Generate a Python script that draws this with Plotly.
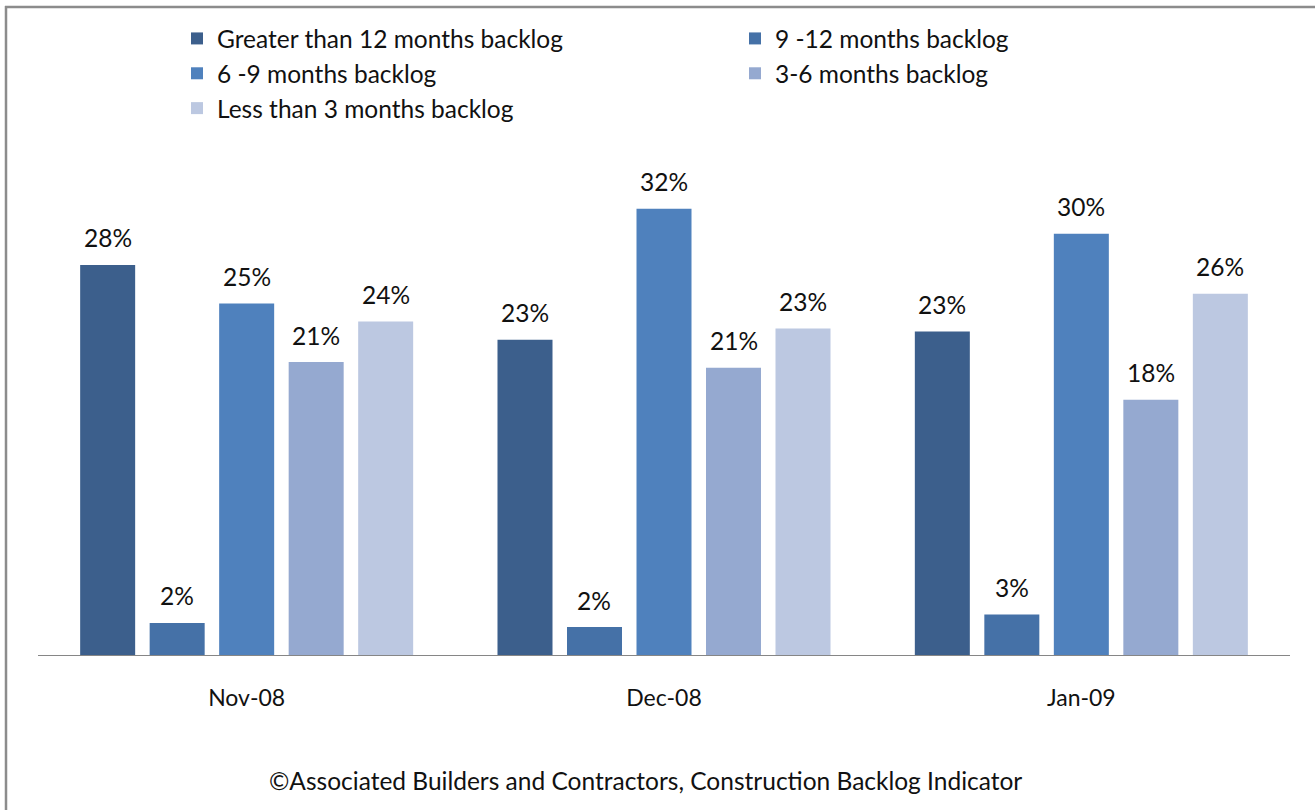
import plotly.graph_objects as go

# ---------------- data ----------------
categories = ["Nov-08", "Dec-08", "Jan-09"]
series_names = [
    "Greater than 12 months backlog",
    "9 -12 months backlog",
    "6 -9 months backlog",
    "3-6 months backlog",
    "Less than 3 months backlog",
]
gt12 = [27.96, 22.6, 23.2]
m9_12 = [2.3, 2.0, 2.9]
m6_9 = [25.2, 32.0, 30.2]
m3_6 = [21.0, 20.6, 18.3]
lt3 = [23.9, 23.4, 25.9]
series_values = [gt12, m9_12, m6_9, m3_6, lt3]
colors = ["#3C5F8C", "#4571A7", "#4F81BD", "#95A9D0", "#BCC8E1"]
footer = "\u00a9Associated Builders and Contractors, Construction Backlog Indicator"

# ---------------- layout geometry ----------------
W, H = 1315, 810
ML, MR, MT, MB = 38, 25, 170, 155
PW = W - ML - MR
PH = H - MT - MB
YMAX = 34.77
BARGAP = 0.1673
BARGROUPGAP = 0.2086
FONT = "Lato, 'Open Sans', sans-serif"

def px_x(px):
    return (px - ML) / PW

def px_y(py):
    return (H - MB - py) / PH

fig = go.Figure()
for name, vals, col in zip(series_names, series_values, colors):
    fig.add_trace(go.Bar(
        name=name, x=categories, y=vals, marker=dict(color=col, line=dict(width=0)),
        hoverinfo="skip",
    ))

# data labels as annotations above each bar
cat_w = PW / len(categories)
slot = (1 - BARGAP) * cat_w / len(series_names)
n = len(series_names)
annotations = []
for i, vals in enumerate(series_values):
    for c, v in zip(categories, vals):
        annotations.append(dict(
            x=c, y=v, xref="x", yref="y", text=f"{round(v)}%", showarrow=False,
            xshift=(i - (n - 1) / 2) * slot, yshift=27, yanchor="middle",
            font=dict(family=FONT, size=24.5, color="#111111"),
        ))
annotations.append(dict(
    x=px_x(645), y=px_y(780), xref="paper", yref="paper", text=footer, showarrow=False,
    xanchor="center", yanchor="middle", font=dict(family=FONT, size=24.5, color="#111111"),
))

shapes = [
    dict(type="line", xref="paper", yref="paper", x0=px_x(6), x1=px_x(6), y0=px_y(6), y1=px_y(830),
         line=dict(color="#8C8C8C", width=2.5)),
    dict(type="line", xref="paper", yref="paper", x0=px_x(5), x1=px_x(1330), y0=px_y(7), y1=px_y(7),
         line=dict(color="#8C8C8C", width=2.5)),
]

fig.update_layout(
    width=W, height=H,
    margin=dict(l=ML, r=MR, t=MT, b=MB, autoexpand=False),
    paper_bgcolor="white", plot_bgcolor="white",
    barmode="group", bargap=BARGAP, bargroupgap=BARGROUPGAP,
    font=dict(family=FONT, size=23, color="#111111"),
    showlegend=True,
    legend=dict(
        orientation="h", x=px_x(177), y=px_y(16), xanchor="left", yanchor="top",
        entrywidth=513, entrywidthmode="pixels", traceorder="normal",
        font=dict(family=FONT, size=24.5, color="#111111"), itemclick=False, itemdoubleclick=False,
        bgcolor="rgba(0,0,0,0)", tracegroupgap=0,
    ),
    xaxis=dict(
        showline=True, linecolor="#868686", linewidth=1.3, ticks="", showgrid=False,
        zeroline=False, ticklabelstandoff=22,
        tickfont=dict(family=FONT, size=23, color="#111111"),
    ),
    yaxis=dict(range=[0, YMAX], visible=False, showgrid=False, zeroline=False),
    annotations=annotations,
    shapes=shapes,
)

fig.write_html("out.html", config={"displayModeBar": False},
               post_script="document.body.style.margin='0';")
